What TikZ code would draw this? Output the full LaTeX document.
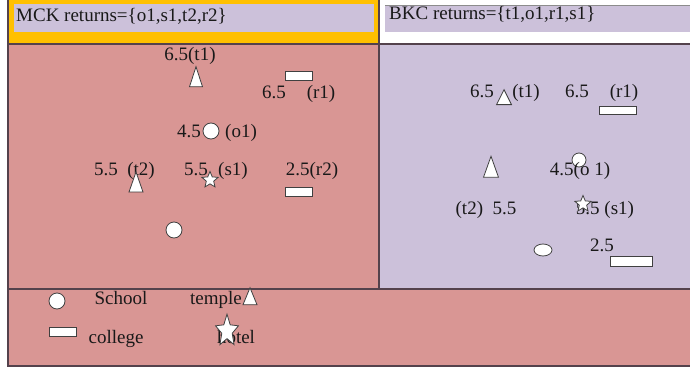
\documentclass[tikz,border=0pt]{standalone}
\usepackage{fontspec}
\setmainfont{Liberation Serif}
\usepackage{xcolor}
\usepackage{tikz}
\usetikzlibrary{shapes.geometric,positioning}
\definecolor{panelpink}{RGB}{217,150,148}
\definecolor{panellilac}{RGB}{204,193,218}
\definecolor{headgold}{RGB}{255,192,0}
\definecolor{frameline}{RGB}{84,66,76}
\tikzset{
  school/.style  = {circle, draw=black!75, line width=0.8pt, fill=white, minimum size=16pt, inner sep=0pt},
  college/.style = {rectangle, draw=black!75, line width=0.8pt, fill=white, minimum width=27pt,
                    minimum height=9pt, inner sep=0pt},
  temple/.style  = {isosceles triangle, isosceles triangle stretches, shape border rotate=90,
                    draw=black!75, line width=0.8pt, fill=white, minimum width=13pt,
                    minimum height=20pt, inner sep=0pt},
  hotel/.style   = {star, star points=5, star point ratio=2.2, draw=black!75, line width=0.8pt,
                    fill=white, minimum size=17pt, inner sep=0pt},
  score/.style   = {anchor=base, inner sep=0pt, text=black!90, font=\fontsize{19}{21}\selectfont},
  frame/.style   = {frameline, line width=1.2pt},
}

\begin{document}
\begin{tikzpicture}[x=1pt, y=-1pt]
\useasboundingbox (0,0) rectangle (690,369);
\fill[headgold]   (8,0)   rectangle (379,44);
\fill[panellilac] (14,4)  rectangle (374,32);
\fill[panellilac] (385,5) rectangle (690,32);
\draw[black!45]   (385,5) -- (690,5);
\fill[panelpink]  (8,44)  rectangle (379,289);
\fill[panellilac] (379,44) rectangle (690,289);
\fill[panelpink]  (8,289) rectangle (690,366);
\draw[frame] (8,0) -- (8,366) -- (690,366);
\draw[frame] (8,44) -- (690,44);
\draw[frame] (379,0) -- (379,289);
\draw[frame] (8,289) -- (690,289);

\node[score, anchor=base west] (mckhead) at (16,22)  {MCK returns=\{o1,s1,t2,r2\}};
\node[score, anchor=base west] (bkchead) at (389,20) {BKC returns=\{t1,o1,r1,s1\}};

% MCK
\node[score] (mt1val) at (190,60)  {6.5(t1)};
\node[temple] (mt1) at (196,82) {};
\node[college] (mr1) at (298.5,75.5) {};
\node[score] (mr1val) at (274,98)  {6.5};
\node[score] (mr1lab) at (321,98)  {(r1)};
\node[score] (mo1val) at (189,137) {4.5};
\node[school] (mo1) at (211,131) {};
\node[score] (mo1lab) at (241,137) {(o1)};
\node[score] (mt2val) at (106,175) {5.5};
\node[score] (mt2lab) at (141,175) {(t2)};
\node[temple, minimum width=14pt] (mt2) at (136,187) {};
\node[score] (ms1val) at (196,175) {5.5};
\node[score] (ms1lab) at (233,175) {(s1)};
\node[hotel] (ms1) at (210,180) {};
\node[score] (mr2val) at (312,175) {2.5(r2)};
\node[college] (mr2) at (298.5,191.5) {};
\node[school] (mo2) at (174,230) {};

% BKC
\node[score] (bt1val) at (482,97)  {6.5};
\node[temple, minimum width=15pt, minimum height=15pt] (bt1) at (504,100) {};
\node[score] (bt1lab) at (526,97)  {(t1)};
\node[score] (br1val) at (577,97)  {6.5};
\node[score] (br1lab) at (624,97)  {(r1)};
\node[college, minimum width=37pt, minimum height=8pt] (br1) at (617.5,110) {};
\node[school, minimum size=14pt] (bo1) at (579,160) {};
\node[score] (bo1val) at (580,175) {4.5(o 1)};
\node[temple, minimum width=15pt, minimum height=21pt] (bt2) at (491,172) {};
\node[score] (bt2val) at (486,214) {(t2)\ \ 5.5};
\node[score] (bs1val) at (605,214) {5.5 (s1)};
\node[hotel] (bs1) at (583,204) {};
\node[ellipse, draw=black!75, line width=0.8pt, fill=white, minimum width=18pt,
      minimum height=12pt, inner sep=0pt] (bo2) at (543,250) {};
\node[score] (br2val) at (602,251) {2.5};
\node[college, minimum width=42pt, minimum height=10pt] (br2) at (631,261) {};

% legend
\node[school] (keyschool) at (57,301) {};
\node[score] (keyschoollab) at (121,304) {School};
\node[score] (keytemplelab) at (216,304) {temple};
\node[temple, minimum width=14pt, minimum height=17pt] (keytemple) at (250,300) {};
\node[college] (keycollege) at (62.5,331.5) {};
\node[score] (keycollegelab) at (116,343) {college};
\node[score] (keyhotellab) at (236,343) {hotel};
\node[hotel, minimum size=24pt, yscale=1.4] (keyhotel) at (227,331) {};
\end{tikzpicture}
\end{document}
